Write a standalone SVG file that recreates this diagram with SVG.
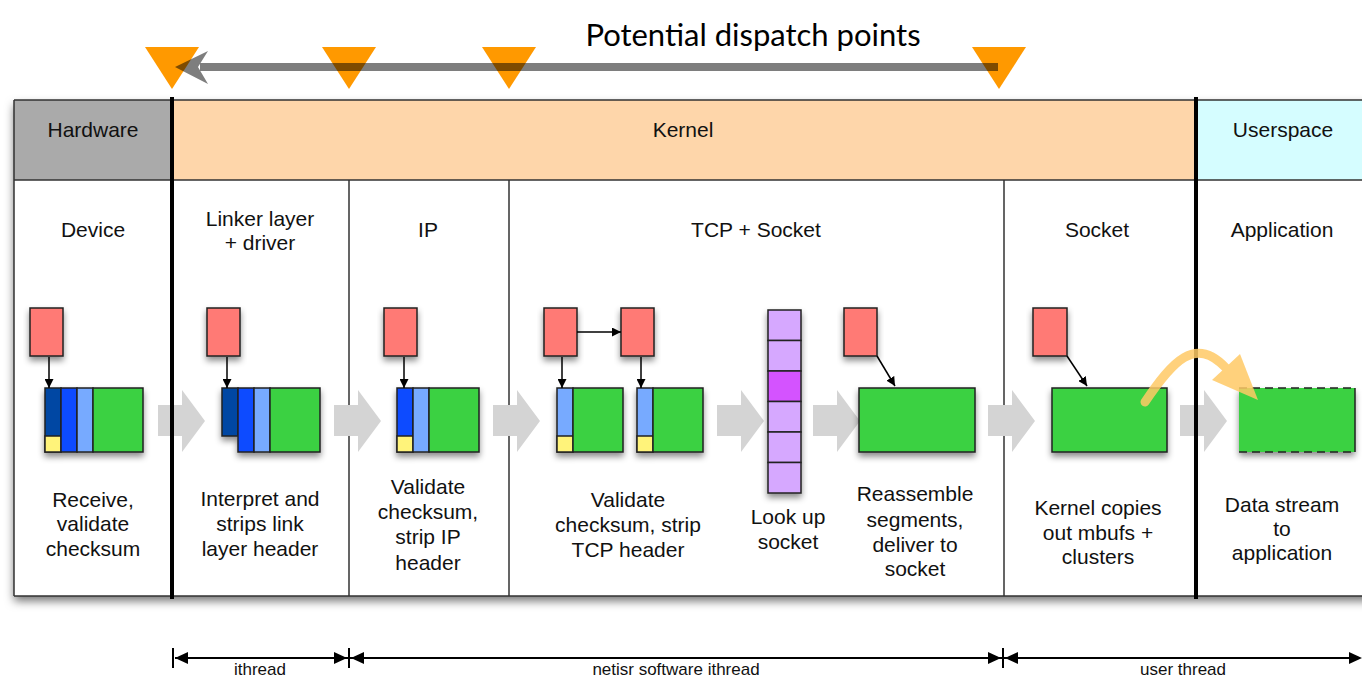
<svg xmlns="http://www.w3.org/2000/svg" width="1362" height="680" viewBox="0 0 1362 680">
<defs>
<style>
text{font-family:"Liberation Sans",Arial,sans-serif;font-size:21px;fill:#111;text-anchor:middle}
.title{font-family:Lato,"Open Sans",sans-serif;font-size:31px;fill:#000}
.bt{font-size:17px}
.red{fill:#ff7a75;stroke:#222;stroke-width:1.5}
.grn{fill:#3bd143;stroke:#222;stroke-width:1.5}
.dk{fill:#0047a3;stroke:#222;stroke-width:1.5}
.bl{fill:#0a4cff;stroke:#222;stroke-width:1.5}
.lb{fill:#77aaff;stroke:#222;stroke-width:1.5}
.yl{fill:#fff37a;stroke:#222;stroke-width:1.5}
.pl{fill:#d6a8ff;stroke:#222;stroke-width:1.5}
.mg{fill:#d452ff;stroke:#222;stroke-width:1.5}
.thin{stroke:#333;stroke-width:1.5;fill:none}
.thick{stroke:#000;stroke-width:4;fill:none}
.ptr{stroke:#000;stroke-width:1.5;fill:none;marker-end:url(#ah)}
.tri{fill:#ff9900}
</style>
<filter id="sh" x="-20%" y="-20%" width="140%" height="150%">
<feDropShadow dx="0" dy="4" stdDeviation="3" flood-color="#000" flood-opacity="0.45"/>
</filter>
<filter id="tsh" x="-5%" y="-5%" width="110%" height="115%">
<feDropShadow dx="0" dy="5" stdDeviation="5" flood-color="#000" flood-opacity="0.55"/>
</filter>
<marker id="ah" viewBox="0 0 10 10" refX="10" refY="5" markerWidth="9" markerHeight="9" orient="auto" markerUnits="userSpaceOnUse">
<path d="M0,0 L10,5 L0,10 z" fill="#000"/>
</marker>
<polygon id="garrow" points="0,405 24,405 24,390 47,421 24,452 24,436 0,436" fill="#d4d4d4"/>
</defs>

<text class="title" x="753" y="46">Potential dispatch points</text>

<g id="table">
<rect x="14" y="100" width="1360" height="496" fill="#fff" filter="url(#tsh)"/>
<rect x="14" y="100" width="158" height="80" fill="#aaaaaa"/>
<rect x="172" y="100" width="1024" height="80" fill="#fed6aa"/>
<rect x="1196" y="100" width="170" height="80" fill="#d5fdff"/>
<path class="thin" d="M14,100 H1362 M14,180 H1362 M14,596 H1362 M14,100 V596 M349,180 V596 M509,180 V596 M1004,180 V596"/>
</g>

<g id="arrows-gray">
<use href="#garrow" x="158"/>
<use href="#garrow" x="334"/>
<use href="#garrow" x="493"/>
<use href="#garrow" x="717"/>
<use href="#garrow" x="813"/>
<use href="#garrow" x="988"/>
<use href="#garrow" x="1180"/>
</g>

<g id="dividers">
<path class="thick" d="M172,97 V599 M1196,97 V599"/>
</g>

<g id="hardware"><text x="93" y="137">Hardware</text></g>
<g id="kernel"><text x="683" y="137">Kernel</text></g>
<g id="userspace"><text x="1283" y="137">Userspace</text></g>

<g id="device">
<text x="93" y="237">Device</text>
<rect class="red" x="30" y="308" width="33" height="48" filter="url(#sh)"/>
<g filter="url(#sh)">
<rect class="dk" x="45" y="388" width="16" height="64"/>
<rect class="yl" x="45" y="436" width="16" height="16"/>
<rect class="bl" x="61" y="388" width="16" height="64"/>
<rect class="lb" x="77" y="388" width="16" height="64"/>
<rect class="grn" x="93" y="388" width="50" height="64"/>
</g>
<text x="93" y="507">Receive,</text>
<text x="93" y="531">validate</text>
<text x="93" y="556">checksum</text>
</g>

<g id="link">
<text x="260" y="226">Linker layer</text>
<text x="260" y="250">+ driver</text>
<rect class="red" x="207" y="308" width="33" height="48" filter="url(#sh)"/>
<g filter="url(#sh)">
<rect class="dk" x="222" y="388" width="16" height="48"/>
<rect class="bl" x="238" y="388" width="16" height="64"/>
<rect class="lb" x="254" y="388" width="16" height="64"/>
<rect class="grn" x="270" y="388" width="50" height="64"/>
</g>
<text x="260" y="506">Interpret and</text>
<text x="260" y="531">strips link</text>
<text x="260" y="556">layer header</text>
</g>

<g id="ip">
<text x="428" y="237">IP</text>
<rect class="red" x="384" y="308" width="33" height="48" filter="url(#sh)"/>
<g filter="url(#sh)">
<rect class="bl" x="397" y="388" width="16" height="64"/>
<rect class="yl" x="397" y="436" width="16" height="16"/>
<rect class="lb" x="413" y="388" width="16" height="64"/>
<rect class="grn" x="429" y="388" width="50" height="64"/>
</g>
<text x="428" y="494">Validate</text>
<text x="428" y="519">checksum,</text>
<text x="428" y="544">strip IP</text>
<text x="428" y="570">header</text>
</g>

<g id="tcp">
<text x="756" y="237">TCP + Socket</text>
<rect class="red" x="544" y="308" width="33" height="48" filter="url(#sh)"/>
<rect class="red" x="621" y="308" width="33" height="48" filter="url(#sh)"/>
<g filter="url(#sh)">
<rect class="lb" x="557" y="388" width="16" height="64"/>
<rect class="yl" x="557" y="436" width="16" height="16"/>
<rect class="grn" x="573" y="388" width="50" height="64"/>
<rect class="lb" x="637" y="388" width="16" height="64"/>
<rect class="yl" x="637" y="436" width="16" height="16"/>
<rect class="grn" x="653" y="388" width="50" height="64"/>
</g>
<text x="628" y="507">Validate</text>
<text x="628" y="532">checksum, strip</text>
<text x="628" y="557">TCP header</text>
</g>

<g id="lookup">
<g filter="url(#sh)">
<rect class="pl" x="768" y="310" width="33" height="30.5"/>
<rect class="pl" x="768" y="340.5" width="33" height="30.5"/>
<rect class="mg" x="768" y="371" width="33" height="30.5"/>
<rect class="pl" x="768" y="401.5" width="33" height="30.5"/>
<rect class="pl" x="768" y="432" width="33" height="30.5"/>
<rect class="pl" x="768" y="462.5" width="33" height="30.5"/>
</g>
<text x="788" y="524">Look up</text>
<text x="788" y="549">socket</text>
</g>

<g id="reassemble">
<rect class="red" x="844" y="308" width="33" height="48" filter="url(#sh)"/>
<rect class="grn" x="859" y="388" width="116" height="64" filter="url(#sh)"/>
<text x="915" y="501">Reassemble</text>
<text x="915" y="527">segments,</text>
<text x="915" y="552">deliver to</text>
<text x="915" y="576">socket</text>
</g>

<g id="socket">
<text x="1097" y="237">Socket</text>
<rect class="red" x="1033" y="308" width="34" height="48" filter="url(#sh)"/>
<rect class="grn" x="1052" y="388" width="115" height="64" filter="url(#sh)"/>
<text x="1098" y="515">Kernel copies</text>
<text x="1098" y="540">out mbufs +</text>
<text x="1098" y="564">clusters</text>
</g>

<g id="application">
<text x="1282" y="237">Application</text>
<g filter="url(#sh)">
<rect x="1239" y="388" width="116" height="64" fill="#3bd143"/>
</g>
<path d="M1239,388 H1355 M1239,452 H1355" stroke="#222" stroke-width="1.5" stroke-dasharray="8,5" fill="none"/>
<path d="M1355,388 V452" stroke="#222" stroke-width="1.5" fill="none"/>
<text x="1282" y="512">Data stream</text>
<text x="1282" y="536">to</text>
<text x="1282" y="560">application</text>
</g>

<g id="connectors">
<line class="ptr" x1="49" y1="357" x2="49" y2="388"/>
<line class="ptr" x1="227" y1="357" x2="227" y2="388"/>
<line class="ptr" x1="404" y1="357" x2="404" y2="388"/>
<line class="ptr" x1="562" y1="357" x2="562" y2="388"/>
<line class="ptr" x1="641" y1="357" x2="641" y2="388"/>
<line class="ptr" x1="577" y1="332" x2="621" y2="332"/>
<line class="ptr" x1="877" y1="356" x2="895" y2="386"/>
<line class="ptr" x1="1067" y1="356" x2="1087" y2="386"/>
<g id="copy-arrow" opacity="0.85">
<path d="M1145,402 C1172,362 1195,335 1226,368" stroke="#ffca66" stroke-width="9" stroke-linecap="round" fill="none"/>
<polygon points="1212,380 1240,354 1258,400" fill="#ffca66"/>
</g>
</g>

<g id="dispatch">
<polygon class="tri" points="145,47 199,47 172,89"/>
<polygon class="tri" points="322,47 376,47 349,89"/>
<polygon class="tri" points="482,47 536,47 509,89"/>
<polygon class="tri" points="972,47 1026,47 999,89"/>
<g opacity="0.5">
<line x1="200" y1="67" x2="998" y2="67" stroke="#000" stroke-width="8"/>
<polygon points="175,67 208,51 198,67 208,84" fill="#000"/>
</g>
</g>

<g id="threads">
<path d="M173,648 V668 M349,648 V668 M1003,648 V668" stroke="#000" stroke-width="2"/>
<line x1="175" y1="658" x2="1360" y2="658" stroke="#000" stroke-width="2"/>
<polygon points="175,658 188,652 188,664"/>
<polygon points="347,658 334,652 334,664"/>
<polygon points="351,658 364,652 364,664"/>
<polygon points="1001,658 988,652 988,664"/>
<polygon points="1005,658 1018,652 1018,664"/>
<polygon points="1362,658 1349,652 1349,664"/>
<text class="bt" x="260" y="675">ithread</text>
<text class="bt" x="676" y="675">netisr software ithread</text>
<text class="bt" x="1183" y="675">user thread</text>
</g>
</svg>
